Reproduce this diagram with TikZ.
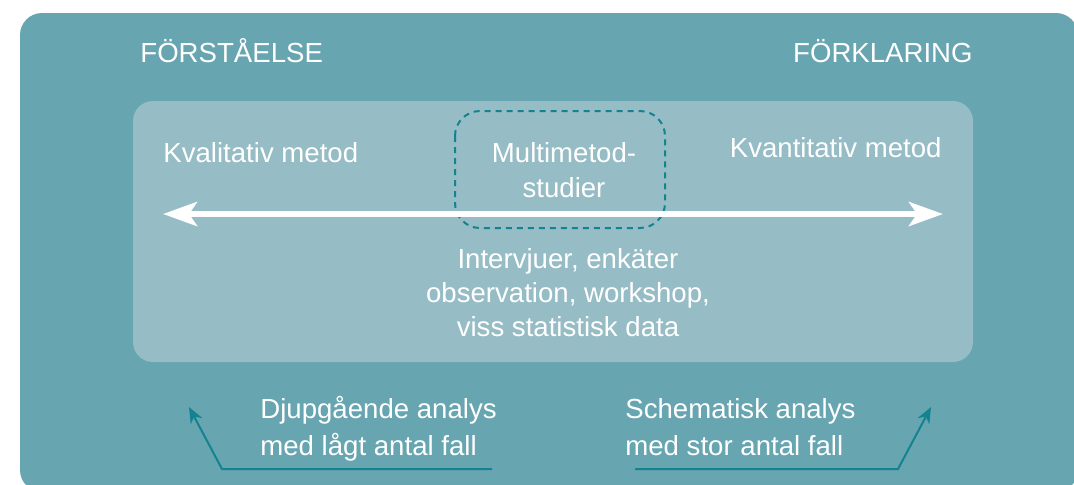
\documentclass[tikz,border=0pt]{standalone}
\usepackage{fontspec}
\setmainfont{Liberation Sans}
\usetikzlibrary{arrows.meta}
\definecolor{outerteal}{HTML}{67A5B0}
\definecolor{innerteal}{HTML}{96BCC5}
\definecolor{darkteal}{HTML}{13838F}
\begin{document}
\begin{tikzpicture}[x=0.5pt,y=-0.5pt,
    txt/.style={text=white,inner sep=0pt,font=\fontsize{13.8}{17}\selectfont},
    pointer/.style={darkteal,line width=1pt,-{Stealth[length=8pt,width=6.5pt]}},
    spectrum/.style={white,line width=3pt,{Stealth[length=17pt,width=12pt,inset=4pt]}-{Stealth[length=17pt,width=12pt,inset=4pt]}}]
  \useasboundingbox (0,0) rectangle (1074,484);
  \clip (0,0) rectangle (1074,484);
  % panels
  \fill[outerteal,rounded corners=11pt] (20,13) rectangle (1078,492);
  \fill[innerteal,rounded corners=10pt] (133,101) rectangle (973,362);
  % headings
  \node[txt,anchor=base west] (underst) at (140,62) {FÖRSTÅELSE};
  \node[txt,anchor=base east] (explain) at (973,62) {FÖRKLARING};
  % methods
  \node[txt,anchor=base west] (qual) at (163,162) {Kvalitativ metod};
  \node[txt,anchor=base east] (quant) at (942,157) {Kvantitativ metod};
  \node[txt,anchor=base,align=center,font=\fontsize{13.8}{17.5}\selectfont] (multi) at (564,197) {Multimetod-\\studier};
  \draw[darkteal,line width=1pt,dash pattern=on 3pt off 2.5pt,rounded corners=12.5pt]
    (455,111) rectangle (665,228);
  % spectrum arrow
  \coordinate (qualend) at (163,214);
  \coordinate (quantend) at (943,214);
  \draw[spectrum] (qualend) -- (quantend);
  \node[txt,anchor=base,align=center] (tools) at (568,336)
    {Intervjuer, enkäter\\observation, workshop,\\viss statistisk data};
  % analyses
  \node[txt,anchor=base west,align=left,font=\fontsize{13.8}{18.3}\selectfont] (deep) at (260,455)
    {Djupgående analys\\med lågt antal fall};
  \node[txt,anchor=base west,align=left,font=\fontsize{13.8}{18.3}\selectfont] (schem) at (625,455)
    {Schematisk analys\\med stor antal fall};
  \coordinate (deepstart) at (492,469);
  \coordinate (deepbend) at (222,469);
  \coordinate (deeptip) at (189,407);
  \coordinate (schemstart) at (635,469);
  \coordinate (schembend) at (898,469);
  \coordinate (schemtip) at (931,407);
  \draw[pointer] (deepstart) -- (deepbend) -- (deeptip);
  \draw[pointer] (schemstart) -- (schembend) -- (schemtip);
\end{tikzpicture}
\end{document}
